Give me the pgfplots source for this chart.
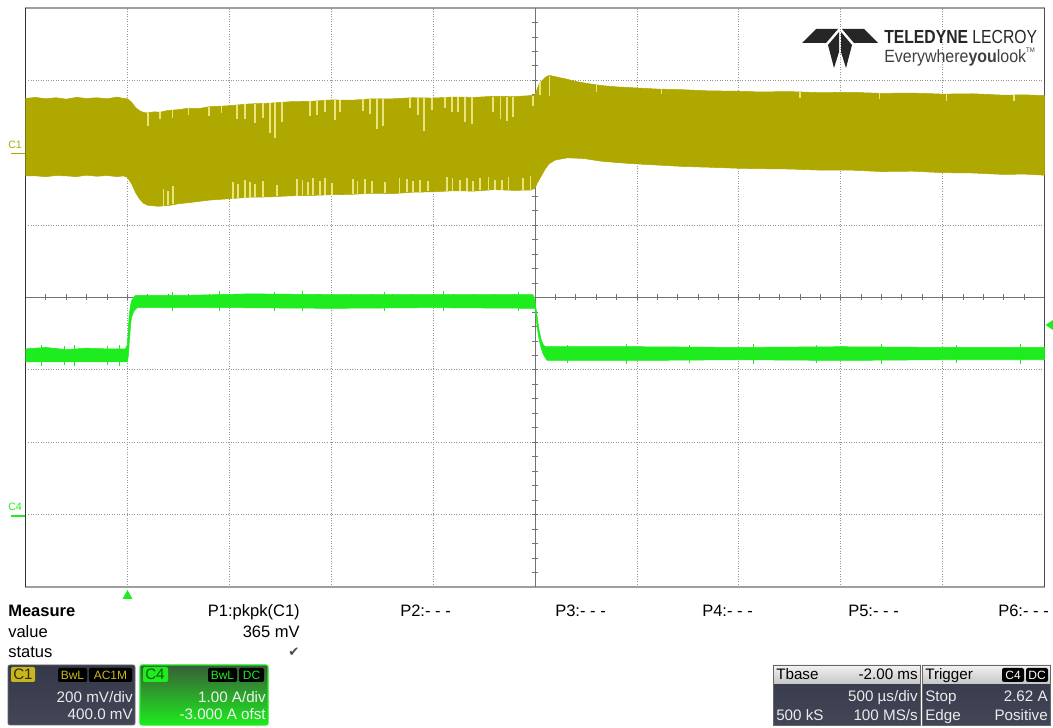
\documentclass[border=0pt]{standalone}
\usepackage{graphicx}
\usepackage{pgfplots}
\pgfplotsset{compat=1.18}
\usepackage{fontspec}
\setmainfont{Liberation Sans}
\newfontfamily\symfont{DejaVu Sans}
\definecolor{cone}{RGB}{174,168,0}
\definecolor{spk}{RGB}{234,228,125}
\definecolor{cfour}{RGB}{30,236,30}
\definecolor{gridc}{RGB}{150,150,150}
\definecolor{boxdark}{RGB}{52,56,72}
\definecolor{boxmid}{RGB}{98,102,118}
\definecolor{boxbot}{RGB}{66,70,86}
\definecolor{lbl}{RGB}{200,182,30}
\pgfplotsset{osc/.style={width=764.25pt,height=434.25pt,scale only axis,
  xmin=-0.5,xmax=4.5,at={(19.125pt,105.75pt)},anchor=south west}}
\newcommand\fm{\fontsize{12.4pt}{14pt}\selectfont}
\newcommand\fb{\fontsize{11.4pt}{13pt}\selectfont}
\newcommand\fs{\fontsize{9pt}{10pt}\selectfont}
\begin{document}
\begin{tikzpicture}
\path[use as bounding box] (0,0) rectangle (789.75pt,546pt);
% grid axis (C1 scale: mV, time in ms)
\begin{axis}[osc, ymin=-1200, ymax=400,
  xtick={0,0.5,...,4}, ytick={-1000,-800,...,200},
  xticklabels={,,,,,,,,,}, yticklabels={,,,,,,,}, major tick length=0pt,
  grid=major, major grid style={gridc, line width=0.6pt, dash pattern=on 0.6pt off 1.3pt},
  axis line style={draw=gray!75, line width=0.8pt}]
\end{axis}
\begin{scope}[x=0.75pt,y=-0.75pt,yshift=546pt]
  \draw[gray!90!black, line width=0.75pt] (25.5,297.5) -- (1044.5,297.5);
  \draw[gray!90!black, line width=0.75pt] (535,8) -- (535,587);
  \foreach \i in {1,...,49} \draw[gray!90!black, line width=0.6pt] ({25.5+\i*20.38},294.5) -- ++(0,6);
  \foreach \i in {1,...,39} \draw[gray!90!black, line width=0.6pt] (532,{8+\i*14.475}) -- ++(6,0);
  \draw[black!80, line width=1.3pt] (25.5,8) -- (25.5,587);
  \draw[black!70, line width=1pt] (1044.5,8) -- (1044.5,587);
\end{scope}
% C1 trace, mV
\begin{axis}[osc, hide axis, ymin=-1200, ymax=400]
\addplot[fill=cone, draw=cone, line width=0.4pt] coordinates {
(-0.5,150)(-0.45,153)(-0.4,149)(-0.35,152)(-0.3,148)(-0.25,153)(-0.2,150)(-0.15,152)(-0.1,149)(-0.05,154)(-0.02,150)(0.0,149)
(0.02,140)(0.04,125)(0.06,116)(0.08,111)(0.1,110)(0.13,113)(0.16,112)(0.2,117)(0.25,119)(0.3,123)(0.35,122)(0.4,127)(0.5,130)
(0.6,135)(0.7,137)(0.8,141)(0.9,142)(1.0,146)(1.1,145)(1.2,149)(1.3,149)(1.4,152)(1.5,151)(1.6,154)(1.7,153)(1.8,156)(1.9,155)
(1.98,158)(2.0,160)(2.02,190)(2.05,208)(2.07,214)(2.1,210)(2.15,204)(2.2,197)(2.25,192)(2.32,186)(2.4,182)(2.5,179)(2.6,176)
(2.73,174)(2.85,171)(3.0,170)(3.1,168)(3.25,169)(3.4,166)(3.55,167)(3.7,164)(3.85,165)(4.0,162)(4.15,163)(4.3,159)(4.4,160)(4.5,158)
(4.5,-62)(4.4,-59)(4.3,-60)(4.15,-56)(4.0,-55)(3.85,-51)(3.7,-52)(3.55,-48)(3.4,-48)(3.25,-45)(3.1,-44)(3.0,-43)(2.85,-40)
(2.73,-38)(2.6,-34)(2.5,-31)(2.4,-27)(2.32,-23)(2.24,-16)(2.16,-14)(2.1,-20)(2.07,-30)(2.05,-45)(2.03,-65)(2.01,-85)(2.0,-98)
(1.98,-103)(1.9,-104)(1.8,-102)(1.7,-106)(1.6,-105)(1.5,-108)(1.4,-109)(1.3,-113)(1.2,-112)(1.1,-115)(1.0,-116)(0.9,-118)
(0.8,-119)(0.7,-122)(0.6,-123)(0.5,-127)(0.4,-131)(0.3,-138)(0.25,-141)(0.2,-146)(0.15,-148)(0.1,-145)(0.08,-140)(0.06,-128)
(0.04,-110)(0.02,-85)(0.0,-68)(-0.02,-64)(-0.05,-66)(-0.1,-63)(-0.15,-65)(-0.2,-62)(-0.25,-66)(-0.3,-64)(-0.35,-63)(-0.4,-66)
(-0.45,-64)(-0.5,-64)} -- cycle;
% light spikes hanging from the top edge
\addplot[draw=none, mark=none, error bars/.cd, y dir=minus, y explicit, error mark=none,
  error bar style={draw=spk, solid, line width=0.9pt}] coordinates {
(0.101,111) -= (0,36) (0.16,112) -= (0,20) (0.22,118) -= (0,22) (0.30,123) -= (0,18) (0.40,127) -= (0,25) (0.46,129) -= (0,20)
(0.538,133) -= (0,41) (0.577,134) -= (0,41) (0.626,136) -= (0,55) (0.665,137) -= (0,41) (0.700,138) -= (0,83)
(0.724,139) -= (0,97) (0.759,140) -= (0,55) (0.896,143) -= (0,41) (0.930,144) -= (0,41) (0.970,145) -= (0,33)
(1.019,146) -= (0,55) (1.043,146) -= (0,33) (1.156,148) -= (0,33) (1.190,148) -= (0,41) (1.225,149) -= (0,83)
(1.254,149) -= (0,75) (1.387,151) -= (0,28) (1.426,151) -= (0,47) (1.455,152) -= (0,91) (1.495,152) -= (0,33)
(1.558,153) -= (0,28) (1.593,153) -= (0,41) (1.622,153) -= (0,41) (1.657,154) -= (0,69) (1.691,154) -= (0,75)
(1.794,154) -= (0,41) (1.829,155) -= (0,61) (1.863,155) -= (0,66) (1.892,155) -= (0,55) (1.990,157) -= (0,28)
(2.025,195) -= (0,35) (2.070,212) -= (0,55) (2.30,187) -= (0,20) (2.62,176) -= (0,15) (3.30,168) -= (0,18)
(3.69,164) -= (0,16) (4.02,162) -= (0,18) (4.35,159) -= (0,15)};
% light spikes rising from the bottom edge
\addplot[draw=none, mark=none, error bars/.cd, y dir=plus, y explicit, error mark=none,
  error bar style={draw=spk, solid, line width=0.9pt}] coordinates {
(0.176,-146) += (0,47) (0.199,-145) += (0,40) (0.224,-143) += (0,50)
(0.518,-127) += (0,47) (0.543,-126) += (0,40) (0.577,-125) += (0,50) (0.602,-124) += (0,42) (0.626,-123) += (0,36)
(0.665,-122) += (0,45) (0.734,-120) += (0,30) (0.832,-119) += (0,47) (0.861,-118) += (0,42) (0.886,-118) += (0,36)
(0.911,-117) += (0,47) (0.945,-117) += (0,40) (0.970,-116) += (0,47) (1.004,-116) += (0,33)
(1.107,-114) += (0,42) (1.131,-114) += (0,36) (1.166,-113) += (0,40) (1.200,-112) += (0,33) (1.264,-111) += (0,30)
(1.337,-110) += (0,40) (1.372,-109) += (0,36) (1.401,-109) += (0,30) (1.436,-108) += (0,33) (1.475,-107) += (0,28)
(1.568,-106) += (0,40) (1.597,-106) += (0,36) (1.632,-105) += (0,30) (1.666,-105) += (0,36) (1.696,-105) += (0,28)
(1.730,-104) += (0,33) (1.770,-104) += (0,36) (1.804,-104) += (0,30) (1.838,-104) += (0,28) (1.868,-103) += (0,36)
(1.941,-103) += (0,33) (1.976,-103) += (0,40)};
\end{axis}
% C4 trace, A
\begin{axis}[osc, hide axis, ymin=-1, ymax=7]
\addplot[fill=cfour, draw=cfour, line width=0.4pt] coordinates {
(-0.5,2.29)(-0.4,2.31)(-0.3,2.28)(-0.2,2.30)(-0.1,2.29)(-0.01,2.29)(0.0,2.35)(0.005,2.6)(0.01,2.78)(0.015,2.88)(0.02,2.95)
(0.03,3.0)(0.04,3.03)(0.3,3.03)(0.6,3.05)(1.0,3.04)(1.4,3.04)(1.8,3.04)(1.99,3.04)(2.0,2.95)(2.01,2.75)(2.02,2.55)(2.03,2.42)
(2.04,2.35)(2.05,2.32)(2.5,2.32)(3.0,2.31)(3.5,2.32)(4.0,2.31)(4.5,2.31)
(4.5,2.14)(4.0,2.14)(3.5,2.13)(3.0,2.14)(2.5,2.13)(2.06,2.13)(2.05,2.17)(2.04,2.22)(2.03,2.3)(2.02,2.42)(2.01,2.6)(2.005,2.75)
(2.0,2.85)(1.5,2.86)(1.0,2.85)(0.5,2.86)(0.05,2.86)(0.04,2.84)(0.03,2.8)(0.02,2.72)(0.015,2.6)(0.01,2.42)(0.005,2.2)(0.0,2.11)
(-0.5,2.11)} -- cycle;
\addplot[draw=none, mark=none, error bars/.cd, y dir=both, y explicit, error mark=none,
  error bar style={draw=cfour, solid, line width=0.7pt}] coordinates {
(-0.42,2.20) +- (0,0.14) (-0.31,2.20) +- (0,0.13) (-0.26,2.20) +- (0,0.14) (-0.10,2.20) +- (0,0.13) (-0.04,2.20) +- (0,0.14)
(0.22,2.95) +- (0,0.13) (0.45,2.95) +- (0,0.14) (0.72,2.95) +- (0,0.13) (0.86,2.95) +- (0,0.14) (1.26,2.95) +- (0,0.13)
(1.55,2.95) +- (0,0.14) (1.92,2.95) +- (0,0.13) (2.16,2.22) +- (0,0.13) (2.45,2.22) +- (0,0.14) (2.76,2.22) +- (0,0.13)
(3.07,2.22) +- (0,0.14) (3.38,2.22) +- (0,0.13) (3.70,2.22) +- (0,0.14) (4.07,2.22) +- (0,0.13) (4.38,2.22) +- (0,0.14)};
\end{axis}
% ---- screen furniture ----
\begin{scope}[x=0.75pt,y=-0.75pt,yshift=546pt]
  % channel markers
  \node[anchor=base west, inner sep=0, text=cone, font=\fontsize{8pt}{9pt}\selectfont] at (8,149) {C1};
  \draw[cone, line width=1.4pt] (11,153.5) -- (25,153.5);
  \node[anchor=base west, inner sep=0, text=cfour, font=\fontsize{8pt}{9pt}\selectfont] at (8,511) {C4};
  \draw[cfour, line width=1.4pt] (11,515.6) -- (25,515.6);
  % trigger markers
  \fill[cfour] (127.5,590) -- (132.5,599) -- (122.5,599) -- cycle;
  \fill[cfour] (1045.5,325) -- (1053,320) -- (1053,330) -- cycle;
  % logo
  \fill[black!85] (802,43) -- (816,29) -- (838,29) -- (826,43) -- cycle;
  \fill[black!85] (878,43) -- (864,29) -- (842,29) -- (854,43) -- cycle;
  \fill[black!85] (828,45) -- (839,32) -- (839,52) -- (834,68) -- cycle;
  \fill[black!85] (852,45) -- (841,32) -- (841,52) -- (846,68) -- cycle;
  \node[anchor=base west, inner sep=0, text=black!85] at (884,43.5)
    {\scalebox{0.83}[1]{\fontsize{14.2pt}{15pt}\selectfont\textbf{TELEDYNE} LECROY}};
  \node[anchor=base west, inner sep=0, text=black!75] at (884,62.5)
    {\scalebox{0.9}[1]{\fontsize{13.3pt}{14pt}\selectfont Everywhere\textbf{you}look\raisebox{1.1ex}{\fontsize{5pt}{5pt}\selectfont TM}}};
  % measure table
  \node[anchor=base west, inner sep=0, font=\fm\bfseries] at (8,617) {Measure};
  \node[anchor=base west, inner sep=0, font=\fm] at (8,638) {value};
  \node[anchor=base west, inner sep=0, font=\fm] at (8,658) {status};
  \node[anchor=base east, inner sep=0, font=\fm] at (300,617) {P1:pkpk(C1)};
  \node[anchor=base east, inner sep=0, font=\fm] at (300,638) {365 mV};
  \node[inner sep=0, text=black!70, font=\symfont\fontsize{10pt}{11pt}\selectfont] at (294,652) {✔};
  \node[anchor=base west, inner sep=0, font=\fm] at (400,617) {P2:- - -};
  \node[anchor=base west, inner sep=0, font=\fm] at (555,617) {P3:- - -};
  \node[anchor=base west, inner sep=0, font=\fm] at (702,617) {P4:- - -};
  \node[anchor=base west, inner sep=0, font=\fm] at (848,617) {P5:- - -};
  \node[anchor=base west, inner sep=0, font=\fm] at (998,617) {P6:- - -};
  % C1 box
  \shade[top color=boxdark, middle color=boxmid, bottom color=boxbot, rounded corners=1.5pt] (8,665) rectangle (135,725);
  \draw[black!60, line width=0.6pt, rounded corners=1.5pt] (8,665) rectangle (135,725);
  \fill[lbl, rounded corners=1pt] (11,667) rectangle (35,682);
  \node[anchor=base west, inner sep=0, text=black!75!lbl, font=\fb] at (13,680) {C1};
  \fill[black, rounded corners=1pt] (58,668) rectangle (87,682);
  \fill[black, rounded corners=1pt] (89,668) rectangle (132,682);
  \node[inner sep=0, text=lbl, font=\fs] at (72.5,675.5) {BwL};
  \node[inner sep=0, text=lbl, font=\fs] at (110.5,675.5) {AC1M};
  \node[anchor=base east, inner sep=0, text=white!92!black, font=\fb] at (133,703) {200 mV/div};
  \node[anchor=base east, inner sep=0, text=white!92!black, font=\fb] at (133,720) {400.0 mV};
  % C4 box
  \shade[top color=black!70!cfour!60!gray, middle color=black!40!cfour, bottom color=cfour, rounded corners=1.5pt] (140,665) rectangle (268,725);
  \draw[cfour, line width=0.8pt, rounded corners=1.5pt] (140,665) rectangle (268,725);
  \fill[cfour, rounded corners=1pt] (143,667) rectangle (168,682);
  \node[anchor=base west, inner sep=0, text=black!60!cfour, font=\fb] at (145,680) {C4};
  \fill[black, rounded corners=1pt] (208,668) rectangle (237,682);
  \fill[black, rounded corners=1pt] (239,668) rectangle (264,682);
  \node[inner sep=0, text=cfour, font=\fs] at (222.5,675.5) {BwL};
  \node[inner sep=0, text=cfour, font=\fs] at (251.5,675.5) {DC};
  \node[anchor=base east, inner sep=0, text=white!95!black, font=\fb] at (266,703) {1.00 A/div};
  \node[anchor=base east, inner sep=0, text=white!95!black, font=\fb] at (266,720) {-3.000 A ofst};
  % Tbase box
  \shade[top color=boxdark, middle color=boxmid, bottom color=boxbot] (773,665) rectangle (920,725);
  \shade[top color=white!90!gray, bottom color=gray!45] (773,665) rectangle (920,684);
  \draw[black!60, line width=0.6pt] (773,665) rectangle (920,725);
  \node[anchor=base west, inner sep=0, font=\fb] at (776,680) {Tbase};
  \node[anchor=base east, inner sep=0, font=\fb] at (918,680) {-2.00 ms};
  \node[anchor=base east, inner sep=0, text=white!92!black, font=\fb] at (918,702) {500 µs/div};
  \node[anchor=base west, inner sep=0, text=white!92!black, font=\fb] at (776,721) {500 kS};
  \node[anchor=base east, inner sep=0, text=white!92!black, font=\fb] at (918,721) {100 MS/s};
  % Trigger box
  \shade[top color=boxdark, middle color=boxmid, bottom color=boxbot] (922,665) rectangle (1050,725);
  \shade[top color=white!90!gray, bottom color=gray!45] (922,665) rectangle (1050,684);
  \draw[black!60, line width=0.6pt] (922,665) rectangle (1050,725);
  \node[anchor=base west, inner sep=0, font=\fb] at (925,680) {Trigger};
  \fill[black, rounded corners=1.5pt] (1002,668) rectangle (1024,682);
  \fill[black, rounded corners=1.5pt] (1026,668) rectangle (1048,682);
  \node[inner sep=0, text=white, font=\fs] at (1013,675.5) {C4};
  \node[inner sep=0, text=white, font=\fs] at (1037,675.5) {DC};
  \node[anchor=base west, inner sep=0, text=white!92!black, font=\fb] at (925,702) {Stop};
  \node[anchor=base east, inner sep=0, text=white!92!black, font=\fb] at (1048,702) {2.62 A};
  \node[anchor=base west, inner sep=0, text=white!92!black, font=\fb] at (925,721) {Edge};
  \node[anchor=base east, inner sep=0, text=white!92!black, font=\fb] at (1048,721) {Positive};
\end{scope}
\end{tikzpicture}
\end{document}
